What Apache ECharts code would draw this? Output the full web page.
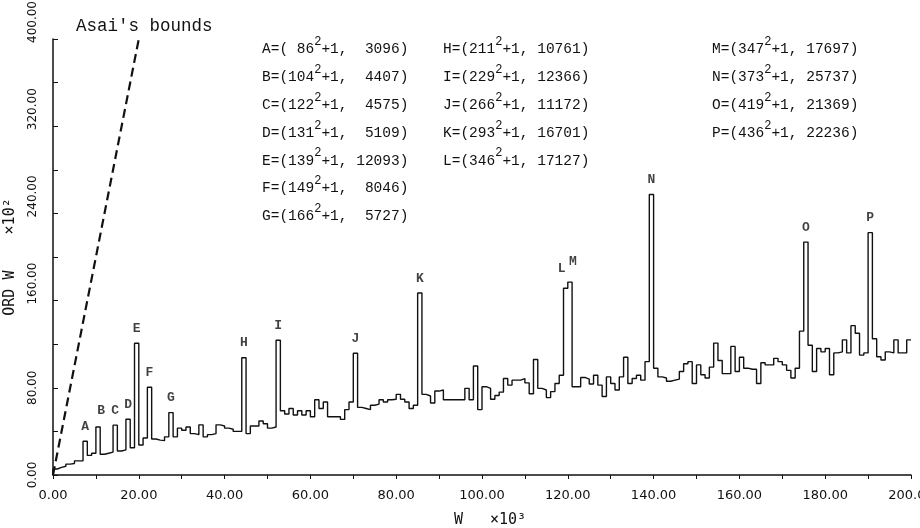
<!DOCTYPE html>
<html>
<head>
<meta charset="utf-8">
<script src="https://cdn.jsdelivr.net/npm/echarts@6/dist/echarts.min.js"></script>
<style>
  html, body { margin: 0; padding: 0; background: #fff; }
  #main { width: 920px; height: 528px; }
</style>
</head>
<body>
<div id="main"></div>
<script>
// spikes: W = root^2 + 1, ORD W as printed in the table
const spikeLetters = ["A","B","C","D","E","F","G","H","I","J","K","L","M","N","O","P"];
const spikeRoots = [86,104,122,131,139,149,166,211,229,266,293,346,347,373,419,436];
const spikeOrds = [3096,4407,4575,5109,12093,8046,5727,10761,12366,11172,16701,17127,17697,25737,21369,22236];

// max ORD W per bin of width 1 (x10^3), x10^2; null = spike bin
const binValues = [
  5.5, 7, 8, 10, 10.5, 13, 13, null, 18, 20,
  null, 19, 20, 21, null, 22, 23, null, 25, null,
  27.5, 34, null, 33, 32, 31.5, 35, null, 35, 43,
  41, 44, 38, 37, 46, 35, 37, 38, 46, 45,
  43, 42, 40, 40, null, 38, 45, 45, 49.5, 47,
  43, 44, null, 59, 56, 61, 55, 59, 55, 59,
  53.5, 69, 61, 67, 53.5, 53.5, 53.5, 51, 60, 67,
  null, 62, 61, 60, 64, 65, 69, 67, 69, 69.5,
  74, 69.5, 67, 61, 64, null, 74, 72.5, 66, 77,
  78, 69, 69, 69, 69, 69, 79.5, 69, 100, 60,
  81, 79.5, 69.5, 73, 76, 88.5, 82.5, 87, 87, 88.5,
  84.5, 74.5, 106, 79.5, 78, 71, 76.5, 84, 91.5, null,
  null, 81, 81, 89.5, 88, 83.5, 91.5, 82.5, 72, 90,
  84, 78, 90, 108, 84, 88.5, 91.5, 87, 104, null,
  98, 90, 89, 86, 87, 88, 95, 102, 104, 84,
  101, 92, 89, 99, 121, 105, 93, 93, 118, 95,
  108, 98, 97, 97, 84, 103, 101, 101, 107, 104,
  101, 96, 89, 98, 132, null, 119, 95, 116, 113,
  116, 92, 112, 113, 124, 112, 137, 130, 110, 112,
  null, 125, 108.5, 105.5, 113, 112, 124, 112, 112, 124
];
const binWidth = 1;

// Asai's bound line
const asaiW = [0, 20];
const asaiOrd = [0, 400];

const xTicks = { min: 0, max: 200, step: 10, labelEvery: 20 };
const yTicks = { min: 0, max: 400, step: 40, labelEvery: 80 };

const vals = binValues.slice();
const spikePoints = [];
spikeRoots.forEach(function (r, i) {
  const w = (r * r + 1) / 1000;
  const bin = Math.floor(w / binWidth);
  vals[bin] = spikeOrds[i] / 100;
  spikePoints.push({ value: [(bin + 0.5) * binWidth, spikeOrds[i] / 100], name: spikeLetters[i] });
});
const stepData = [[0, 0]];
vals.forEach(function (v, k) { stepData.push([k * binWidth, v]); });
stepData.push([vals.length * binWidth, vals[vals.length - 1]]);

// label nudges for the close L / M pair and B
spikePoints[1].label = { offset: [3, -2] };
spikePoints[11].label = { offset: [-4, -5] };
spikePoints[12].label = { offset: [3, -6] };

function pad(s, n) { s = String(s); while (s.length < n) s = " " + s; return s; }
function rowText(i) {
  return "{n|" + spikeLetters[i] + "=(" + pad(spikeRoots[i], 3) + "}{s|2}{n|+1, " + pad(spikeOrds[i], 5) + ")}";
}
const richRow = {
  n: { fontFamily: "Liberation Mono", fontSize: 14.5, fill: "#111", lineHeight: 14, verticalAlign: "bottom" },
  s: { fontFamily: "Liberation Mono", fontSize: 12, fill: "#111", lineHeight: 12, padding: [0, 0, 9, 0], verticalAlign: "bottom" }
};
const columns = [[0, 7, 262], [7, 12, 443], [12, 16, 712]];
const tableGraphics = [];
columns.forEach(function (c) {
  for (let i = c[0]; i < c[1]; i++) {
    tableGraphics.push({
      type: "text", left: c[2], top: 36 + (i - c[0]) * 27.8,
      style: { text: rowText(i), rich: richRow }
    });
  }
});

var myChart = echarts.init(document.getElementById("main"));
myChart.setOption({
  animation: false,
  backgroundColor: "#fff",
  grid: { left: 53, right: 9, top: 39, bottom: 53, containLabel: false, outerBoundsMode: "none" },
  xAxis: {
    type: "value",
    min: xTicks.min, max: xTicks.max, interval: xTicks.step,
    name: "W   \u00d710\u00b3",
    nameLocation: "middle",
    nameGap: 38,
    nameTextStyle: { fontFamily: "DejaVu Sans Mono", fontSize: 15, color: "#111", padding: [0, 0, 0, 16] },
    axisLine: { lineStyle: { color: "#111", width: 1.5 } },
    axisTick: { inside: false, length: 4, interval: 0, lineStyle: { color: "#111" } },
    axisLabel: {
      margin: 14, color: "#111", fontFamily: "DejaVu Sans", fontSize: 13,
      showMaxLabel: true, hideOverlap: false,
      formatter: function (v) { return v % xTicks.labelEvery === 0 ? v.toFixed(2) : ""; }
    },
    splitLine: { show: false }
  },
  yAxis: {
    type: "value",
    min: yTicks.min, max: yTicks.max, interval: yTicks.step,
    name: "ORD W    \u00d710\u00b2",
    nameLocation: "middle",
    nameRotate: 90,
    nameGap: 35,
    nameTextStyle: { fontFamily: "DejaVu Sans Mono", fontSize: 15, color: "#111" },
    axisLine: { show: true, lineStyle: { color: "#111", width: 1.5 } },
    axisTick: { show: true, inside: true, length: 5, interval: 0, lineStyle: { color: "#111" } },
    axisLabel: {
      rotate: 90, margin: 14, color: "#111", fontFamily: "DejaVu Sans", fontSize: 12,
      showMaxLabel: true, hideOverlap: false,
      formatter: function (v) {
        if (v % yTicks.labelEvery !== 0) return "";
        return v >= 100 ? "{w|" + v.toFixed(2) + "}" : v.toFixed(2);
      },
      rich: { w: { fontFamily: "DejaVu Sans", fontSize: 12, color: "#111", padding: [0, 0, 0, 34] } }
    },
    splitLine: { show: false }
  },
  graphic: tableGraphics.concat([
    { type: "text", left: 76, top: 17,
      style: { text: "Asai's bounds", fontFamily: "Liberation Mono", fontSize: 17.5, fill: "#111" } }
  ]),
  series: [
    {
      name: "ORD W",
      type: "line",
      step: "end",
      data: stepData,
      symbol: "none",
      lineStyle: { color: "#111", width: 1.4 }
    },
    {
      name: "Asai's bounds",
      type: "line",
      data: asaiW.map(function (w, i) { return [w, asaiOrd[i]]; }),
      symbol: "none",
      lineStyle: { color: "#111", width: 2.2, type: [9, 5] }
    },
    {
      name: "labels",
      type: "scatter",
      data: spikePoints,
      symbolSize: 0,
      label: {
        show: true, position: "top", distance: 8,
        formatter: "{b}", color: "#111", fontFamily: "Liberation Mono", fontSize: 13, fontWeight: "bold"
      }
    }
  ]
});
</script>
</body>
</html>
